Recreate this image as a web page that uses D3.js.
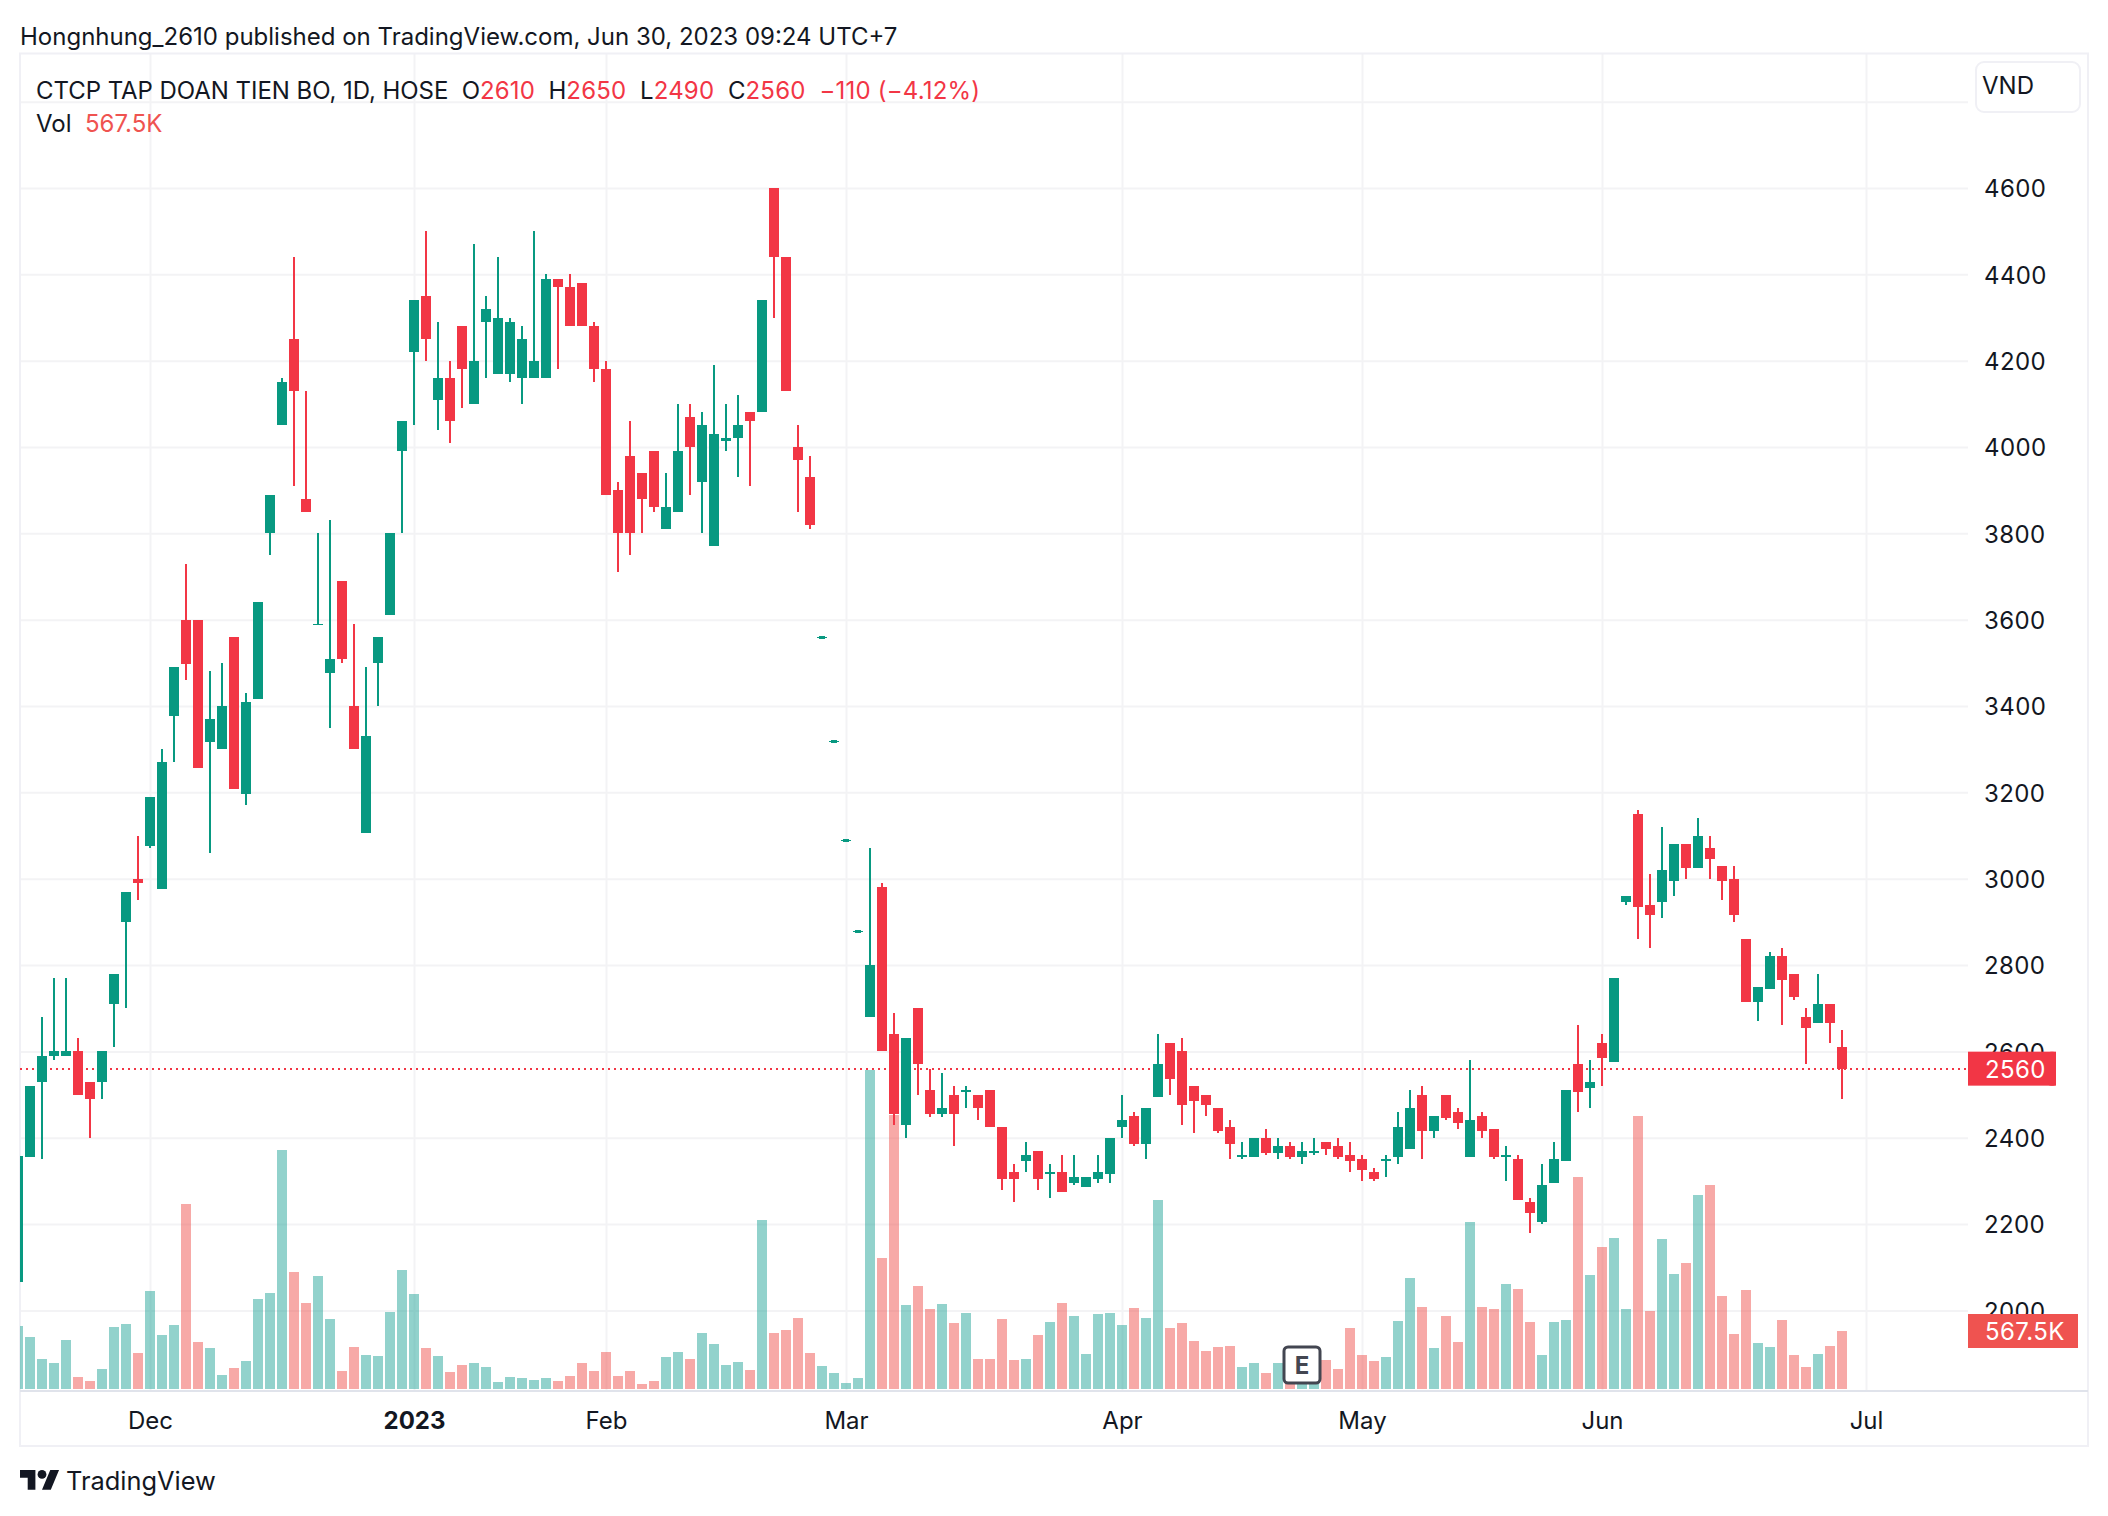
<!DOCTYPE html>
<html>
<head>
<meta charset="utf-8">
<script src="https://cdnjs.cloudflare.com/ajax/libs/d3/7.8.5/d3.min.js"></script>
<style>
html,body{margin:0;padding:0;background:#fff}
svg{display:block}
text{font-family:Inter,"Noto Sans",sans-serif;fill:#131722}
</style>
</head>
<body>
<svg width="2108" height="1516"></svg>
<script>
// values, one entry per daily bar
const opens=[2065,2355,2530,2590,2590,2600,2530,2530,2710,2900,3000,3075,2977,3376,3600,3600,3317,3300,3560,3196,3416,3800,4050,4250,3880,3590,3476,3690,3400,3105,3500,3610,3990,4220,4350,4110,4160,4280,4100,4290,4170,4170,4160,4160,4160,4390,4370,4380,4280,4180,3900,3980,3940,3990,3810,3850,4070,3920,3770,4015,4020,4080,4080,4600,4440,4000,3930,3560,3320,3090,2880,2680,2980,2640,2430,2700,2510,2455,2500,2505,2500,2510,2425,2320,2345,2370,2315,2320,2295,2285,2305,2315,2425,2450,2385,2495,2620,2600,2520,2500,2470,2425,2355,2355,2400,2365,2380,2355,2365,2390,2380,2360,2350,2320,2345,2355,2375,2500,2415,2500,2460,2355,2450,2420,2355,2350,2250,2205,2295,2345,2570,2515,2620,2575,2945,3150,2940,2945,2995,3080,3025,3070,3030,3000,2860,2715,2745,2820,2780,2680,2665,2710,2610]
const highs=[2358,2520,2680,2770,2770,2630,2530,2600,2780,2970,3100,3190,3300,3490,3730,3600,3480,3500,3560,3430,3640,3890,4160,4440,4130,3800,3830,3690,3590,3490,3560,3800,4060,4340,4500,4290,4200,4280,4470,4350,4440,4300,4280,4500,4400,4390,4400,4380,4290,4200,3920,4060,3940,3990,3940,4100,4100,4080,4190,4100,4120,4080,4340,4600,4440,4050,3980,3560,3320,3090,2880,3070,2990,2690,2630,2700,2560,2550,2520,2520,2500,2510,2425,2340,2390,2370,2340,2360,2360,2310,2360,2400,2500,2460,2470,2640,2620,2630,2520,2500,2470,2440,2390,2400,2420,2400,2390,2390,2400,2390,2400,2390,2360,2330,2360,2460,2510,2520,2450,2500,2470,2580,2460,2420,2380,2360,2260,2340,2390,2510,2660,2580,2640,2770,2960,3160,3010,3120,3080,3080,3140,3100,3030,3030,2860,2750,2830,2840,2780,2700,2780,2710,2650]
const lows=[2065,2355,2350,2580,2590,2500,2400,2490,2610,2700,2950,3070,2977,3270,3460,3257,3060,3300,3207,3170,3416,3750,4050,3910,3850,3590,3350,3500,3300,3105,3400,3610,3800,4050,4200,4040,4010,4090,4100,4160,4170,4150,4100,4160,4160,4180,4280,4280,4150,3890,3710,3750,3800,3850,3810,3850,3890,3800,3770,3990,3930,3910,4080,4300,4130,3850,3810,3560,3320,3090,2880,2680,2600,2430,2400,2500,2448,2448,2380,2470,2440,2425,2280,2250,2320,2280,2260,2275,2290,2285,2295,2295,2400,2380,2350,2495,2500,2430,2410,2450,2410,2350,2350,2355,2360,2350,2350,2340,2360,2360,2350,2320,2300,2300,2310,2340,2375,2350,2400,2440,2420,2355,2400,2350,2300,2255,2180,2200,2295,2345,2460,2470,2520,2575,2940,2860,2840,2910,2960,3000,3025,3000,2950,2900,2715,2670,2745,2660,2720,2570,2665,2620,2490]
const closes=[2358,2520,2590,2600,2600,2500,2490,2600,2780,2970,2990,3190,3270,3490,3497,3257,3370,3400,3207,3410,3640,3890,4150,4130,3850,3590,3510,3510,3300,3330,3560,3800,4060,4340,4250,4160,4060,4180,4200,4320,4300,4290,4250,4200,4390,4370,4280,4280,4180,3890,3800,3800,3880,3860,3860,3990,4000,4050,4030,4020,4050,4060,4340,4440,4130,3970,3820,3560,3320,3090,2880,2800,2600,2455,2630,2570,2455,2470,2455,2510,2470,2425,2305,2305,2360,2305,2320,2275,2310,2310,2320,2400,2440,2385,2470,2570,2535,2475,2485,2475,2415,2385,2360,2400,2365,2380,2355,2370,2370,2375,2355,2345,2325,2305,2350,2425,2470,2415,2450,2445,2435,2440,2415,2355,2360,2255,2225,2290,2350,2510,2505,2530,2585,2770,2960,2935,2915,3020,3080,3025,3100,3045,2995,2915,2715,2750,2820,2765,2725,2655,2710,2665,2560]
const volumes=[617,509,294,254,480,117,78,196,607,636,352,959,528,626,1810,460,401,137,205,274,881,939,2339,1145,842,1106,685,176,411,333,323,754,1165,930,401,323,166,235,254,215,69,117,108,88,108,78,127,254,176,362,127,176,49,78,313,362,294,548,440,235,264,186,1654,548,577,695,352,225,157,59,108,3125,1282,2685,822,1008,783,832,646,744,294,294,685,284,294,528,656,842,714,343,734,744,626,793,695,1850,597,646,470,372,411,421,215,254,157,254,78,88,108,284,196,597,333,274,313,665,1086,802,401,714,460,1634,802,783,1028,979,656,333,656,675,2075,1116,1390,1478,783,2672,763,1468,1125,1233,1898,1996,910,538,969,450,411,675,333,215,343,421,567.5]
const priceTicks=[2000,2200,2400,2600,2800,3000,3200,3400,3600,3800,4000,4200,4400,4600]
const gridPrices=[2000,2200,2400,2600,2800,3000,3200,3400,3600,3800,4000,4200,4400,4600,4800]
const monthNames=["Dec","2023","Feb","Mar","Apr","May","Jun","Jul"]
const monthBars=[11,33,49,69,92,112,132,154]
const lastPrice=2560
const lastVol=567.5
const earningsBar=107

const green="#089981",red="#F23645"
const volGreen="rgba(38,166,154,0.5)",volRed="rgba(239,83,80,0.5)"
const gridCol="#f3f3f5",borderCol="#f0f0f5"

const L=20,R=1968,T=53,B=1390,W=2088,H=1446

const svg=d3.select("svg")
const x=d3.scaleLinear().domain([0,1]).range([18,30])
const y=d3.scaleLinear().domain([2000,4600]).range([1310.4,188])
const v=d3.scaleLinear().domain([0,lastVol]).range([1389,1331])
const bars=d3.range(opens.length)

svg.append("defs").append("clipPath").attr("id","pane").append("rect")
.attr("x",L).attr("y",T).attr("width",R-L).attr("height",B-T)

// grid
const gridY=svg.append("g").attr("transform","translate("+L+",0)")
.call(d3.axisRight(y).tickValues(gridPrices).tickSize(R-L).tickFormat(""))
gridY.select(".domain").remove()
gridY.selectAll("line").attr("stroke",gridCol).attr("stroke-width",2)

const gridX=svg.append("g").attr("transform","translate(0,"+T+")")
.call(d3.axisBottom(x).tickValues(monthBars).tickSize(B-T).tickFormat(""))
gridX.select(".domain").remove()
gridX.selectAll("line").attr("stroke",gridCol).attr("stroke-width",2)

// frame
svg.append("rect").attr("x",L).attr("y",T+0.5).attr("width",W-L).attr("height",H-T-0.5)
.attr("fill","none").attr("stroke",borderCol).attr("stroke-width",2)
svg.append("line").attr("x1",L).attr("x2",W).attr("y1",1391).attr("y2",1391)
.attr("stroke","#e0e3eb").attr("stroke-width",2)

const pane=svg.append("g").attr("clip-path","url(#pane)").attr("shape-rendering","crispEdges")

// volume
pane.selectAll(".vol").data(bars).join("rect").attr("class","vol")
.attr("x",d=>x(d)-5).attr("width",10)
.attr("y",d=>Math.round(v(volumes[d])))
.attr("height",d=>v(0)-Math.round(v(volumes[d])))
.attr("fill",d=>closes[d]>=opens[d]?volGreen:volRed)

// last price line
pane.append("line").attr("x1",L).attr("x2",R).attr("y1",y(lastPrice)).attr("y2",y(lastPrice))
.attr("stroke",red).attr("stroke-width",2).attr("stroke-dasharray","2 4")

// candles, a flat bar gets a small blob in the middle
flat=(d)=>highs[d]==lows[d]
pane.selectAll(".wick").data(bars).join("rect").attr("class","wick")
.attr("x",d=>x(d)-(flat(d)?3:1)).attr("width",d=>flat(d)?6:2)
.attr("y",d=>Math.round(y(highs[d]))-(flat(d)?1:0))
.attr("height",d=>flat(d)?3:Math.round(y(lows[d]))-Math.round(y(highs[d])))
.attr("fill",d=>closes[d]>=opens[d]?green:red)

pane.selectAll(".body").data(bars).join("rect").attr("class","body")
.attr("x",d=>x(d)-5).attr("width",10)
.attr("y",d=>Math.round(y(Math.max(opens[d],closes[d]))))
.attr("height",d=>Math.max(1,Math.round(y(Math.min(opens[d],closes[d])))-Math.round(y(Math.max(opens[d],closes[d])))))
.attr("fill",d=>closes[d]>=opens[d]?green:red)

// earnings marker
const e=svg.append("g").attr("transform","translate("+x(earningsBar)+",1365)")
e.append("rect").attr("x",-18).attr("y",-18).attr("width",36).attr("height",36).attr("rx",4)
.attr("fill","#fff").attr("stroke","#434651").attr("stroke-width",3)
e.append("text").attr("text-anchor","middle").attr("y",9).attr("font-size",24).attr("font-weight",700)
.style("fill","#434651").text("E")

// price axis
const axY=svg.append("g").attr("transform","translate("+(R+4)+",1)")
.call(d3.axisRight(y).tickValues(priceTicks).tickSize(0).tickPadding(12).tickFormat(d3.format("d")))
axY.select(".domain").remove()
axY.selectAll("text").attr("font-size",24).style("font-family","Inter").style("fill","#131722").style("letter-spacing","0.4px")

// time axis
const axX=svg.append("g").attr("transform","translate(0,1411)")
.call(d3.axisBottom(x).tickValues(monthBars).tickSize(0).tickPadding(0)
.tickFormat((d,i)=>monthNames[i]))
axX.select(".domain").remove()
axX.selectAll("text").attr("font-size",24).attr("dy","0.75em").style("font-family","Inter").style("fill","#131722")
.style("font-weight",(d,i)=>monthNames[i]=="2023"?700:400)

// tags
tag=(val,txt,w,col)=>{
svg.append("rect").attr("x",R).attr("y",val-17).attr("width",w).attr("height",34).attr("fill",col)
svg.append("rect").attr("x",R+w-8).attr("y",val-17).attr("width",8).attr("height",34).attr("rx",3).attr("fill",col)
svg.append("text").attr("x",R+17).attr("y",val+9).attr("font-size",24).style("fill","#fff").style("letter-spacing","0.4px").text(txt)
}
tag(y(lastPrice),String(lastPrice),88,red)
tag(1331,lastVol+"K",110,"#ef5350")

// currency box
svg.append("rect").attr("x",1976).attr("y",62).attr("width",104).attr("height",50).attr("rx",8)
.attr("fill","#fff").attr("stroke",borderCol).attr("stroke-width",2)
svg.append("text").attr("x",1982).attr("y",94).attr("font-size",24).text("VND")

// header
svg.append("text").attr("x",20).attr("y",44.5).attr("font-size",24).text("Hongnhung_2610 published on TradingView.com, Jun 30, 2023 09:24 UTC+7")

const leg=svg.append("text").attr("x",36).attr("y",98.5).attr("font-size",24).style("white-space","pre")
const part=(t,c,ls)=>leg.append("tspan").style("fill",c).style("letter-spacing",(ls||0)+"px").text(t)
part("CTCP TAP DOAN TIEN BO, 1D, HOSE ","#131722",-0.05)
part(" O","#131722");part("2610 ",red,0.1);part(" H","#131722");part("2650 ",red,0.2)
part(" L","#131722");part("2490 ",red,0.2);part(" C","#131722");part("2560 ",red,0.2)
part(" \u2212110 (\u22124.12%)",red,0.2)

svg.append("text").attr("x",36).attr("y",132).attr("font-size",24).text("Vol")
svg.append("text").attr("x",85).attr("y",132).attr("font-size",24).style("fill","#ef5350").text(lastVol+"K")

// logo
const logo=svg.append("g").attr("transform","translate(20,1465.6) scale(1.1)").attr("fill","#131722")
logo.append("path").attr("d","M14 22H7V11H0V4h14v18zM28 22h-8l7.5-18h8L28 22z")
logo.append("circle").attr("cx",20).attr("cy",8).attr("r",4)
svg.append("text").attr("x",66).attr("y",1490).attr("font-size",25.4).text("TradingView")
</script>
</body>
</html>
